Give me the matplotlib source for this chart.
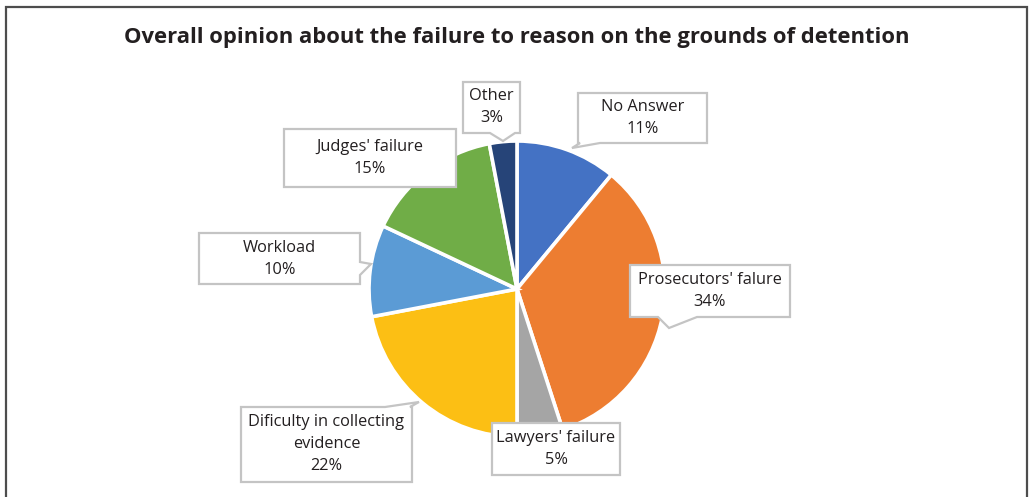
import matplotlib
matplotlib.use("Agg")
import matplotlib.pyplot as plt
from matplotlib.patches import Polygon

plt.rcParams['font.family'] = ['Open Sans', 'DejaVu Sans']

labels = ["No Answer", "Prosecutors' falure", "Lawyers' failure",
          "Dificulty in collecting\nevidence", "Workload", "Judges' failure", "Other"]
values = [11, 34, 5, 22, 10, 15, 3]
colors = ["#4472C4", "#ED7D31", "#A5A5A5", "#FCBF14", "#5B9BD5", "#70AD47", "#264478"]
title = "Overall opinion about the failure to reason on the grounds of detention"

W, H = 1029, 497
fig = plt.figure(figsize=(W / 100, H / 100), dpi=100)

# pie centre / radius in pixels
cx, cy, r = 517, 289, 148
ax = fig.add_axes([(cx - r) / W, (H - cy - r) / H, 2 * r / W, 2 * r / H])
ax.pie(values, colors=colors, startangle=90, counterclock=False,
       wedgeprops=dict(edgecolor='white', linewidth=2.6))
ax.set_xlim(-1, 1)
ax.set_ylim(-1, 1)

# overlay in pixel coords
ov = fig.add_axes([0, 0, 1, 1])
ov.set_xlim(0, W)
ov.set_ylim(H, 0)
ov.axis('off')
ov.patch.set_alpha(0)

# outer frame (no bottom edge visible)
ov.plot([6, 6, 1027, 1027], [H + 5, 7, 7, H + 5], color='#4d4d4d', lw=1.6,
        solid_joinstyle='miter')

ov.text(517, 38, title, ha='center', va='center', fontsize=15.8,
        fontweight='bold', color='#231f20')

# label boxes: (x0, y0, x1, y1), tail = (side, a, b, tip)
boxes = [
    ((578, 93, 707, 143), ('bottom', 580, 600, (572, 148))),
    ((630, 265, 790, 317), ('bottom', 658, 697, (669, 328))),
    ((492, 423, 620, 475), None),
    ((241, 407, 412, 482), ('top', 385, 410, (419, 402))),
    ((199, 233, 360, 284), ('right', 262, 275, (371, 264))),
    ((284, 129, 456, 187), None),
    ((463, 82, 520, 133), ('bottom', 490, 515, (503, 141))),
]


def callout(rect, tail):
    x0, y0, x1, y1 = rect
    pts = [(x0, y0), (x1, y0), (x1, y1), (x0, y1)]
    if tail is not None:
        side, a, b, tip = tail
        if side == 'bottom':
            pts = [(x0, y0), (x1, y0), (x1, y1), (b, y1), tip, (a, y1), (x0, y1)]
        elif side == 'top':
            pts = [(x0, y0), (a, y0), tip, (b, y0), (x1, y0), (x1, y1), (x0, y1)]
        elif side == 'right':
            pts = [(x0, y0), (x1, y0), (x1, a), tip, (x1, b), (x1, y1), (x0, y1)]
    return Polygon(pts, closed=True, facecolor='white', edgecolor='#c4c4c4',
                   lw=1.6, joinstyle='miter', zorder=3)


for lab, v, (rect, tail) in zip(labels, values, boxes):
    ov.add_patch(callout(rect, tail))
    x0, y0, x1, y1 = rect
    ov.text((x0 + x1) / 2, (y0 + y1) / 2, f"{lab}\n{v}%", ha='center',
            va='center', fontsize=11.8, color='#231f20', linespacing=1.5,
            zorder=4)

fig.savefig("out.png", dpi=100)
